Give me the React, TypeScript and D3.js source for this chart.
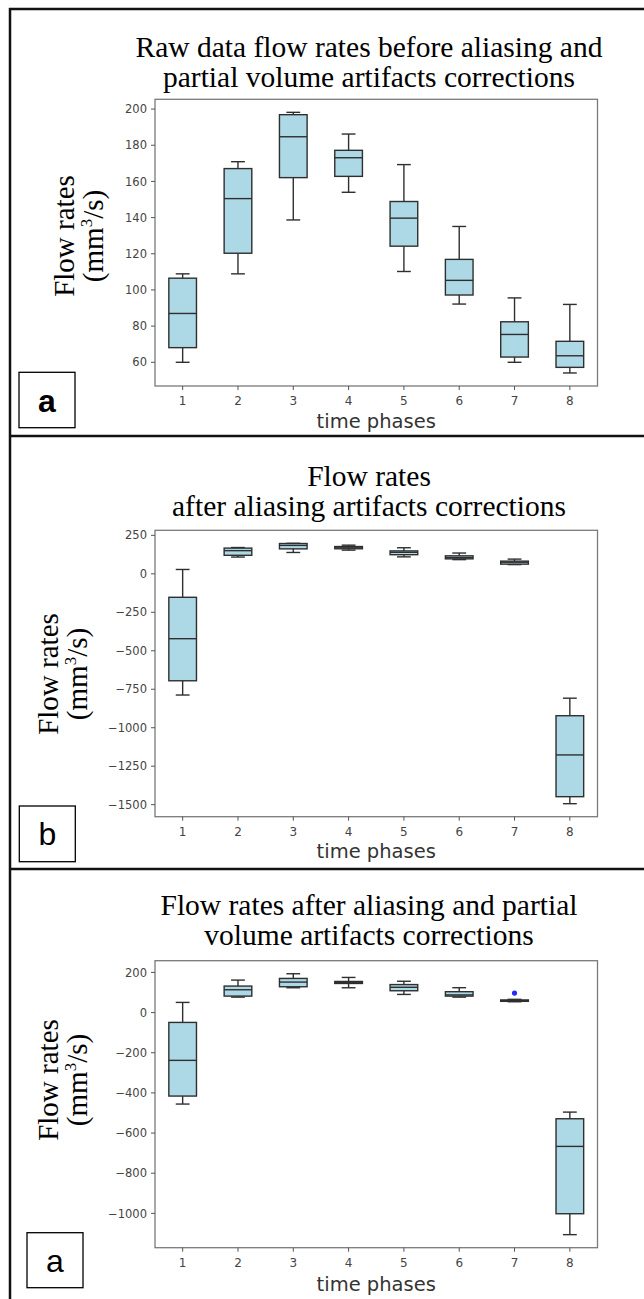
import React from "react";
import * as d3 from "d3";

// ---------- DATA ----------
const phases = [1, 2, 3, 4, 5, 6, 7, 8];

// Panel a (raw data)
const rawLow = [60, 108.9, 138.7, 154, 110.2, 92.2, 60, 54.1];
const rawQ1 = [68.1, 120.3, 162.1, 162.8, 124.2, 97.2, 62.9, 57.2];
const rawMed = [87, 150.5, 184.7, 173.1, 139.7, 105.3, 75.4, 63.6];
const rawQ3 = [106.5, 167.1, 196.9, 177.2, 148.9, 116.9, 82.4, 71.6];
const rawHigh = [108.9, 170.9, 198.2, 186.2, 169.3, 135.1, 95.6, 92];
const rawTicks = [60, 80, 100, 120, 140, 160, 180, 200];

// Panel b (after aliasing corrections)
const aliLow = [-787.5, 108.9, 138.7, 154, 110.2, 92.2, 60, -1493.5];
const aliQ1 = [-694.9, 120.3, 162.1, 162.8, 124.2, 97.2, 62.9, -1448];
const aliMed = [-421.5, 150.5, 184.7, 173.1, 139.7, 105.3, 75.4, -1176.7];
const aliQ3 = [-152.5, 167.1, 196.9, 177.2, 148.9, 116.9, 82.4, -922];
const aliHigh = [28.3, 170.9, 198.2, 186.2, 169.3, 135.1, 95.6, -808];
const aliTicks = [-1500, -1250, -1000, -750, -500, -250, 0, 250];

// Panel c (after aliasing and partial volume corrections)
const fullLow = [-455.6, 77, 123.6, 123.6, 90.4, 77, 54, -1106];
const fullQ1 = [-415.8, 82, 128.6, 145, 108.7, 82, 56, -1001.8];
const fullMed = [-238, 113.7, 151.9, 150, 126, 88, 59, -666.5];
const fullQ3 = [-49, 132, 170.1, 155, 139.5, 104, 63, -528.8];
const fullHigh = [50.6, 161.8, 193.4, 175, 156, 124, 66, -495.7];
const fullOutlierPhase = [7];
const fullOutlierValue = [97];
const fullTicks = [-1000, -800, -600, -400, -200, 0, 200];

const titleA = ["Raw data flow rates before aliasing and", "partial volume artifacts corrections"];
const titleB = ["Flow rates", "after aliasing artifacts corrections"];
const titleC = ["Flow rates after aliasing and partial", "volume artifacts corrections"];

// ---------- LAYOUT ----------
const W = 644;
const H = 1299;
const plotLeft = 155;
const plotRight = 597.5;

type PanelCfg = {
  title: string[];
  titleY: number;
  titleGap: number;
  low: number[];
  q1: number[];
  med: number[];
  q3: number[];
  high: number[];
  outPhase: number[];
  outValue: number[];
  ticks: number[];
  plotTop: number;
  plotBottom: number;
  yLabelX1: number;
  yLabelX2: number;
  yLabelCY: number;
  xTickY: number;
  xLabelY: number;
  letter: string;
  letterBold: boolean;
  letterBox: [number, number, number, number];
};

const panels: PanelCfg[] = [
  {
    title: titleA,
    titleY: 56.5,
    titleGap: 30,
    low: rawLow, q1: rawQ1, med: rawMed, q3: rawQ3, high: rawHigh,
    outPhase: [], outValue: [],
    ticks: rawTicks,
    plotTop: 99.3,
    plotBottom: 386,
    yLabelX1: 74,
    yLabelX2: 103,
    yLabelCY: 236,
    xTickY: 405,
    xLabelY: 427.5,
    letter: "a",
    letterBold: true,
    letterBox: [19, 372.3, 56, 55.4],
  },
  {
    title: titleB,
    titleY: 486,
    titleGap: 30,
    low: aliLow, q1: aliQ1, med: aliMed, q3: aliQ3, high: aliHigh,
    outPhase: [], outValue: [],
    ticks: aliTicks,
    plotTop: 530.3,
    plotBottom: 816.7,
    yLabelX1: 57.5,
    yLabelX2: 87,
    yLabelCY: 674,
    xTickY: 836,
    xLabelY: 858.3,
    letter: "b",
    letterBold: false,
    letterBox: [19.3, 806, 56, 55.7],
  },
  {
    title: titleC,
    titleY: 915,
    titleGap: 30,
    low: fullLow, q1: fullQ1, med: fullMed, q3: fullQ3, high: fullHigh,
    outPhase: fullOutlierPhase, outValue: fullOutlierValue,
    ticks: fullTicks,
    plotTop: 960.7,
    plotBottom: 1247.7,
    yLabelX1: 57.5,
    yLabelX2: 87,
    yLabelCY: 1080,
    xTickY: 1266.7,
    xLabelY: 1290.5,
    letter: "a",
    letterBold: false,
    letterBox: [27, 1232.7, 56, 55],
  },
];

const SERIF = "'Liberation Serif', 'Times New Roman', serif";
const SANS = "'DejaVu Sans', sans-serif";
const ARIAL = "'Liberation Sans', Arial, sans-serif";
const EDGE = "#2f2f2f";
const FILL = "#add8e6";

const fmt = (v: number) => String(v).replace("-", "\u2212");

function Panel({ p }: { p: PanelCfg }) {
  const all = [...p.low, ...p.high, ...p.outValue];
  const mn = d3.min(all) as number;
  const mx = d3.max(all) as number;
  const r = mx - mn;
  const y = d3.scaleLinear().domain([mn - 0.05 * r, mx + 0.05 * r]).range([p.plotBottom, p.plotTop]);
  const x = d3.scaleLinear().domain([0.5, 8.5]).range([plotLeft, plotRight]);
  const bw = x(0.5) - x(0.25);
  const cw = x(0.125) - x(0);
  const cx = (plotLeft + plotRight) / 2;
  return (
    <g>
      {p.title.map((t, i) => (
        <text key={i} x={369} y={p.titleY + i * p.titleGap} textAnchor="middle" fontFamily={SERIF} fontSize={29.5} fill="#000">
          {t}
        </text>
      ))}
      {/* y label */}
      <text transform={`translate(${p.yLabelX1},${p.yLabelCY}) rotate(-90)`} textAnchor="middle" fontFamily={SERIF} fontSize={29} fill="#000">
        Flow rates
      </text>
      <text transform={`translate(${p.yLabelX2},${p.yLabelCY}) rotate(-90)`} textAnchor="middle" fontFamily={SERIF} fontSize={29} fill="#000">
        (mm<tspan fontSize={17} dy={-11}>3</tspan><tspan dy={11}>/s)</tspan>
      </text>
      {/* boxes */}
      {phases.map((ph, i) => {
        const px = x(ph);
        return (
          <g key={ph} stroke={EDGE} strokeWidth={1.4}>
            <line x1={px} x2={px} y1={y(p.high[i])} y2={y(p.q3[i])} />
            <line x1={px} x2={px} y1={y(p.q1[i])} y2={y(p.low[i])} />
            <line x1={px - cw} x2={px + cw} y1={y(p.high[i])} y2={y(p.high[i])} />
            <line x1={px - cw} x2={px + cw} y1={y(p.low[i])} y2={y(p.low[i])} />
            <rect x={px - bw} width={2 * bw} y={y(p.q3[i])} height={y(p.q1[i]) - y(p.q3[i])} fill={FILL} />
            <line x1={px - bw} x2={px + bw} y1={y(p.med[i])} y2={y(p.med[i])} />
          </g>
        );
      })}
      {p.outPhase.map((ph, i) => (
        <circle key={i} cx={x(ph)} cy={y(p.outValue[i])} r={2.6} fill="#2a2aff" />
      ))}
      {/* frame */}
      <rect x={plotLeft} y={p.plotTop} width={plotRight - plotLeft} height={p.plotBottom - p.plotTop} fill="none" stroke="#7a7a7a" strokeWidth={1.3} />
      {/* y ticks */}
      {p.ticks.map((t) => (
        <g key={t}>
          <line x1={plotLeft - 4} x2={plotLeft} y1={y(t)} y2={y(t)} stroke="#555" strokeWidth={1} />
          <text x={plotLeft - 8} y={y(t)} dy="0.36em" textAnchor="end" fontFamily={SANS} fontSize={11.5} fill="#444">
            {fmt(t)}
          </text>
        </g>
      ))}
      {/* x ticks */}
      {phases.map((ph) => (
        <g key={ph}>
          <line x1={x(ph)} x2={x(ph)} y1={p.plotBottom} y2={p.plotBottom + 4} stroke="#555" strokeWidth={1} />
          <text x={x(ph)} y={p.xTickY} textAnchor="middle" fontFamily={SANS} fontSize={12} fill="#444">
            {ph}
          </text>
        </g>
      ))}
      <text x={cx} y={p.xLabelY} textAnchor="middle" fontFamily={SANS} fontSize={19.5} fill="#333">
        time phases
      </text>
      {/* letter box */}
      <rect x={p.letterBox[0]} y={p.letterBox[1]} width={p.letterBox[2]} height={p.letterBox[3]} fill="#fff" stroke="#000" strokeWidth={1.3} />
      <text
        x={p.letterBox[0] + p.letterBox[2] / 2}
        y={p.letterBox[1] + p.letterBox[3] / 2}
        dy="0.36em"
        textAnchor="middle"
        fontFamily={ARIAL}
        fontWeight={p.letterBold ? "bold" : "normal"}
        fontSize={32}
        fill="#000"
      >
        {p.letter}
      </text>
    </g>
  );
}

export default function App() {
  return (
    <svg width={W} height={H} style={{ position: "absolute", left: 0, top: 0, background: "#fff" }}>
      <rect x={0} y={0} width={W} height={H} fill="#fff" />
      {panels.map((p, i) => (
        <Panel key={i} p={p} />
      ))}
      {/* outer frames */}
      <line x1={10} x2={10} y1={8} y2={H} stroke="#111" strokeWidth={2.5} />
      <line x1={9} x2={W} y1={9} y2={9} stroke="#111" strokeWidth={2.5} />
      <line x1={9} x2={W} y1={436} y2={436} stroke="#111" strokeWidth={2.5} />
      <line x1={9} x2={W} y1={869} y2={869} stroke="#111" strokeWidth={2.5} />
    </svg>
  );
}
